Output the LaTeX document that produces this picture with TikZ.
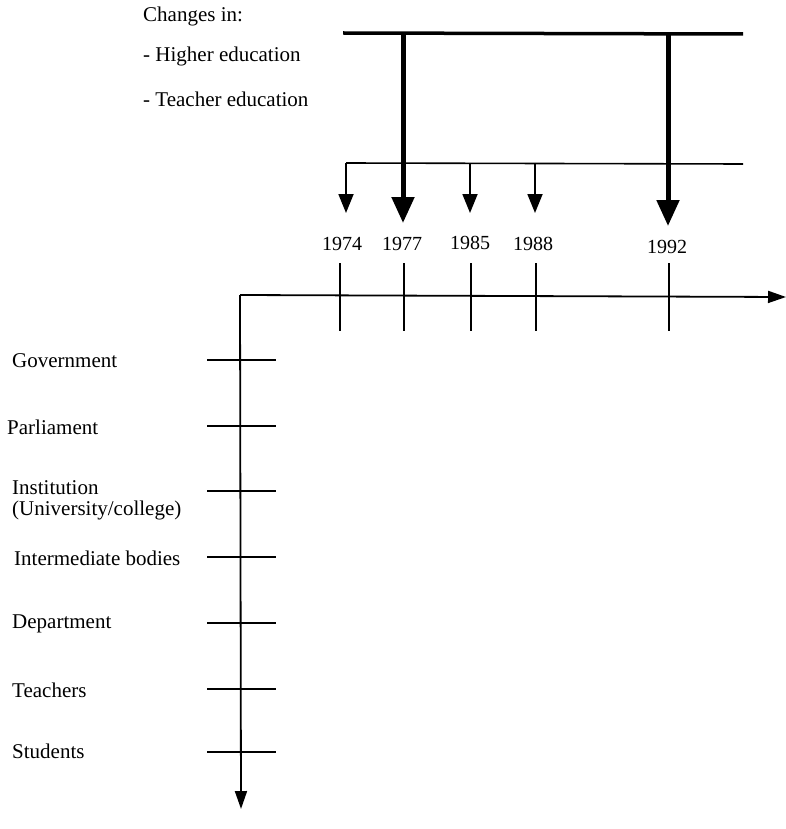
\documentclass[tikz,border=0pt]{standalone}
\usepackage{fontspec}
\setmainfont{Liberation Serif}
\usetikzlibrary{arrows.meta}
\begin{document}
\begin{tikzpicture}[x=1pt,y=-1pt,
  lbl/.style={anchor=west,inner sep=0pt,font=\fontsize{21}{21}\selectfont},
  yr/.style={inner sep=0pt,font=\fontsize{20}{23}\selectfont},
  thin/.style={line width=1.6pt},
  thick arrow/.style={line width=5pt,-{Triangle[length=26pt,width=22pt]}},
  thin arrow/.style={line width=1.8pt,-{Triangle[length=19pt,width=15pt]}},
  axis/.style={line width=1.8pt,-{Triangle[length=18pt,width=12pt]}},
  tick/.style={line width=1.6pt}]
\useasboundingbox (0,0) rectangle (786,829);
% header text
\node[lbl] (chg) at (143,16) {Changes in:};
\node[lbl] (he) at (143,56) {- Higher education};
\node[lbl] (te) at (143,99) {- Teacher education};
% top bars
\coordinate (t1) at (343,33);
\coordinate (t2) at (743,34);
\draw[line width=3.5pt] (t1) -- (t2);
\coordinate (b1) at (346,163);
\coordinate (b2) at (743,164);
\draw[thin] (b1) -- (b2);
% years
\node[yr] (y74) at (342,244) {1974};
\node[yr] (y77) at (402,244) {1977};
\node[yr] (y85) at (470,243) {1985};
\node[yr] (y88) at (533,244) {1988};
\node[yr] (y92) at (667,247) {1992};
% arrows
\coordinate (a77) at (403,33);
\coordinate (e77) at (403,223);
\coordinate (a92) at (668,34);
\coordinate (e92) at (668,226);
\draw[thick arrow] (a77) -- (e77);
\draw[thick arrow] (a92) -- (e92);
\coordinate (a74) at (346,163);
\coordinate (e74) at (346,213);
\coordinate (a85) at (470,163);
\coordinate (e85) at (470,213);
\coordinate (a88) at (535,163);
\coordinate (e88) at (535,213);
\draw[thin arrow] (a74) -- (e74);
\draw[thin arrow] (a85) -- (e85);
\draw[thin arrow] (a88) -- (e88);
% axes
\coordinate (o) at (240,295);
\coordinate (xe) at (786,297);
\coordinate (ye) at (241,809);
\draw[axis] (o) -- (xe);
\draw[axis] (o) -- (ye);
% horizontal ticks
\foreach \x/\n in {340/h74,404/h77,471/h85,536/h88,669/h92}{
  \coordinate (\n a) at (\x,263);
  \coordinate (\n b) at (\x,331);
  \draw[tick] (\n a) -- (\n b);
}
% vertical ticks
\foreach \y/\n in {360/v1,426/v2,491/v3,557/v4,623/v5,689/v6,752/v7}{
  \coordinate (\n a) at (207,\y);
  \coordinate (\n b) at (276,\y);
  \draw[tick] (\n a) -- (\n b);
}
% labels
\node[lbl] (gov) at (12,361) {Government};
\node[lbl] (par) at (7,427) {Parliament};
\node[lbl,align=left] (ins) at (12,500) {Institution\\(University/college)};
\node[lbl] (int) at (14,558) {Intermediate bodies};
\node[lbl] (dep) at (12,624) {Department};
\node[lbl] (tea) at (12,690) {Teachers};
\node[lbl] (stu) at (12,751) {Students};
\end{tikzpicture}
\end{document}
